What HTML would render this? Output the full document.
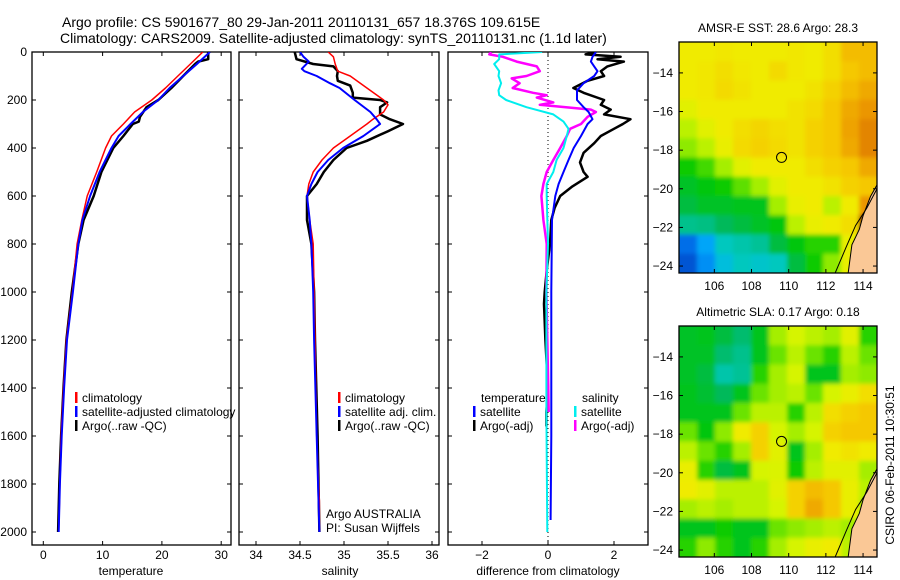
<!DOCTYPE html>
<html><head><meta charset="utf-8"><style>
html,body{margin:0;padding:0;background:#fff;}
svg{display:block;font-family:"Liberation Sans",sans-serif;}
text{fill:#000;}
</style></head><body>
<svg id="chart" width="900" height="580" viewBox="0 0 900 580" xmlns="http://www.w3.org/2000/svg">
<defs>
<clipPath id="c1"><rect x="32" y="52" width="199" height="493"/></clipPath>
<clipPath id="c2"><rect x="239" y="52" width="200" height="493"/></clipPath>
<clipPath id="c3"><rect x="448" y="52" width="200" height="493"/></clipPath>
<clipPath id="cm1"><rect x="679" y="42" width="198" height="231"/></clipPath>
<clipPath id="cm2"><rect x="679" y="326" width="198" height="231"/></clipPath>
<filter id="blur" x="-5%" y="-5%" width="110%" height="110%"><feGaussianBlur stdDeviation="2.2"/></filter>
</defs>
<text x="62" y="27" font-size="14">Argo profile: CS 5901677_80 29-Jan-2011 20110131_657 18.376S 109.615E</text>
<text x="60" y="43" font-size="14">Climatology: CARS2009. Satellite-adjusted climatology: synTS_20110131.nc (1.1d later)</text>
<g id="root"></g>
</svg>
<script>
// ---------- data ----------
const depthTicks = [0,200,400,600,800,1000,1200,1400,1600,1800,2000];
const tempTicks = [0,10,20,30];
const salTicks = [34,34.5,35,35.5,36];
const diffTicks = [-2,0,2];

const tClimDepth = [0,50,100,150,200,250,300,350,400,500,600,700,800,1000,1200,1400,1600,1800,2000];
const tClimVal   = [26.9,24.8,22.7,20.6,18.3,15.4,13.5,11.5,10.5,9.0,7.4,6.5,5.7,4.9,3.9,3.4,3.0,2.8,2.6];
const tSatDepth  = [0,50,100,150,200,250,300,350,400,500,600,700,800,1000,1200,1400,1600,1800,2000];
const tSatVal    = [28.1,25.9,23.6,21.3,19.4,16.8,14.7,12.7,11.5,9.5,7.9,6.6,5.9,5.0,4.0,3.5,3.1,2.8,2.6];
const tArgoDepth = [0,30,40,50,100,150,200,230,270,290,300,350,400,500,600,700,800,1000,1200,1400,1600,1800,2000];
const tArgoVal   = [27.8,27.8,26.1,25.6,23.6,21.6,19.4,17.4,16.3,16.1,15.1,13.5,11.8,9.8,8.5,6.8,5.9,4.8,3.9,3.4,3.0,2.7,2.5];

const sClimDepth = [0,20,50,80,100,150,200,220,250,280,300,350,400,450,500,550,600,700,800,1000,1200,1600,1800,1870,2000];
const sClimVal   = [34.82,34.88,34.9,34.93,35.07,35.26,35.45,35.5,35.45,35.33,35.26,35.07,34.88,34.75,34.65,34.6,34.58,34.61,34.65,34.66,34.67,34.69,34.71,34.72,34.72];
const sSatDepth  = [0,20,40,70,80,100,130,150,200,250,280,300,350,400,450,500,550,600,700,800,1000,1200,1600,2000];
const sSatVal    = [34.5,34.54,34.6,34.52,34.55,34.69,34.84,34.95,35.12,35.3,35.37,35.41,35.22,34.99,34.82,34.7,34.63,34.58,34.61,34.63,34.65,34.66,34.69,34.72];
const sArgoDepth = [0,30,50,60,80,100,120,140,170,190,200,210,230,260,280,300,330,370,400,450,500,550,600,700,800,1000,1200,1600,2000];
const sArgoVal   = [34.44,34.46,34.65,34.88,34.93,34.92,34.93,35.07,35.1,35.1,35.41,35.49,35.41,35.41,35.52,35.67,35.5,35.26,35.03,34.88,34.77,34.69,34.58,34.58,34.63,34.66,34.67,34.7,34.72];

const dTSatDepth = [0,20,40,60,80,100,130,160,200,230,250,280,300,350,400,450,500,550,600,700,1000,1600,1950];
const dTSatVal   = [1.45,1.35,1.3,1.4,1.5,1.4,1.08,0.88,0.88,1.08,1.23,1.35,1.2,1.0,0.78,0.62,0.47,0.32,0.22,0.12,0.1,0.1,0.08];
const dTArgoDepth = [0,10,20,30,40,60,80,100,120,150,170,200,220,240,260,280,300,320,350,380,420,460,500,520,560,600,650,700,800,900,1000,1050,1200,1400,1500,1560];
const dTArgoVal   = [1.45,1.14,2.2,1.5,2.3,1.8,1.6,1.7,1.2,0.77,1.08,1.7,1.6,1.9,1.7,2.5,2.27,2.0,1.6,1.4,1.08,0.97,1.08,1.2,0.74,0.37,0.2,0.1,0.06,-0.03,-0.1,-0.12,-0.08,0,-0.05,-0.05];
const dSSatDepth = [0,10,30,50,80,100,130,160,180,200,230,260,290,320,350,400,450,500,550,600,800,1000,1500,2000];
const dSSatVal   = [-0.18,-1.48,-1.48,-1.63,-1.48,-1.5,-1.42,-1.5,-1.48,-1.27,-0.65,0.16,0.47,0.62,0.57,0.47,0.26,0.16,-0.04,-0.04,0,-0.05,-0.05,-0.02];
const dSArgoDepth = [0,10,20,40,60,80,100,110,130,150,170,180,190,210,220,240,250,270,300,320,350,400,450,500,550,600,700,800,1000,1500];
const dSArgoVal   = [-1.72,-1.78,-1.37,-0.95,-0.34,-0.25,-0.65,-1.1,-0.86,-1.07,-0.45,-0.04,-0.34,0.16,-0.25,1.3,1.45,1.2,1.0,0.67,0.57,0.37,0.16,-0.04,-0.14,-0.2,-0.14,-0.04,-0.05,0.02];

const lonTicks = [106,108,110,112,114];
const latTicks = [-14,-16,-18,-20,-22,-24];
const argoLon = 109.615, argoLat = -18.376;
const sstGrid = [
[0.72,0.72,0.73,0.72,0.72,0.72,0.73,0.72,0.75,0.82,0.82],
[0.72,0.73,0.75,0.73,0.72,0.76,0.73,0.72,0.75,0.80,0.82],
[0.72,0.73,0.76,0.74,0.72,0.72,0.72,0.74,0.78,0.82,0.85],
[0.68,0.72,0.72,0.72,0.72,0.72,0.74,0.76,0.80,0.85,0.88],
[0.62,0.68,0.72,0.75,0.77,0.75,0.74,0.78,0.80,0.86,0.90],
[0.58,0.62,0.70,0.76,0.78,0.76,0.74,0.78,0.80,0.85,0.90],
[0.48,0.52,0.60,0.68,0.72,0.72,0.72,0.75,0.78,0.80,0.85],
[0.44,0.46,0.48,0.54,0.60,0.68,0.72,0.72,0.74,0.78,0.80],
[0.42,0.44,0.44,0.45,0.45,0.60,0.70,0.72,0.62,0.72,0.88],
[0.35,0.36,0.40,0.42,0.44,0.46,0.62,0.70,0.72,0.75,1.00],
[0.10,0.18,0.30,0.32,0.34,0.42,0.46,0.50,0.50,0.70,1.00],
[0.05,0.15,0.25,0.30,0.28,0.30,0.42,0.48,0.58,0.70,0.70]];
const slaGrid = [
[0.44,0.45,0.42,0.38,0.45,0.60,0.65,0.62,0.60,0.68,0.50],
[0.44,0.44,0.38,0.35,0.45,0.55,0.62,0.55,0.50,0.62,0.55],
[0.44,0.42,0.32,0.34,0.50,0.60,0.65,0.45,0.45,0.60,0.58],
[0.45,0.43,0.40,0.45,0.55,0.60,0.62,0.55,0.65,0.70,0.75],
[0.45,0.45,0.45,0.55,0.62,0.62,0.50,0.62,0.75,0.78,0.80],
[0.55,0.46,0.58,0.72,0.78,0.65,0.60,0.65,0.78,0.80,0.80],
[0.62,0.55,0.50,0.60,0.78,0.68,0.45,0.60,0.72,0.74,0.72],
[0.70,0.50,0.42,0.45,0.65,0.66,0.48,0.62,0.68,0.68,0.60],
[0.72,0.68,0.62,0.62,0.62,0.68,0.78,0.82,0.80,0.70,0.62],
[0.60,0.62,0.60,0.62,0.62,0.65,0.78,0.85,0.80,0.70,0.60],
[0.45,0.45,0.48,0.45,0.45,0.55,0.58,0.60,0.62,0.60,0.60],
[0.50,0.58,0.50,0.45,0.50,0.60,0.65,0.70,0.72,0.62,0.60]];

// ---------- helpers ----------
const NS = "http://www.w3.org/2000/svg";
const root = document.getElementById('root');
function mk(tag, attrs, parent){ const e=document.createElementNS(NS,tag); for(const k in attrs) e.setAttribute(k,attrs[k]); (parent||root).appendChild(e); return e; }
const yTop=52, yBot=545;
function yDepth(d){ return 52 + d*0.24; }
function xTemp(v){ return 43.3 + v*5.93; }
function xSal(v){ return 256 + (v-34)*88; }
function xDiff(v){ return 548 + v*33; }

function panel(name, x0, x1, xticks, xfn, xlabelText, xlabelX){
  const g = mk('g',{});
  
  
  const r = mk('rect',{x:x0,y:yTop,width:x1-x0,height:yBot-yTop,fill:'none',stroke:'#000','stroke-width':1.3},g);
  
  
  depthTicks.forEach(d=>{
    const y=yDepth(d);
    mk('line',{x1:x0,x2:x0+4,y1:y,y2:y,stroke:'#000'},g);
    mk('line',{x1:x1-4,x2:x1,y1:y,y2:y,stroke:'#000'},g);
  });
  xticks.forEach(v=>{
    const x=xfn(v);
    mk('line',{x1:x,x2:x,y1:yTop,y2:yTop+4,stroke:'#000'},g);
    mk('line',{x1:x,x2:x,y1:yBot-4,y2:yBot,stroke:'#000'},g);
    const t = mk('text',{x:x,y:559,'font-size':12,'text-anchor':'middle'},g);
    t.textContent = (v<0?'\u2212':'')+Math.abs(v);
    
    
  });
  const xl = mk('text',{x:xlabelX,y:575,'font-size':12,'text-anchor':'middle'},g);
  xl.textContent = xlabelText;
  
  
  return g;
}
function line(depths, vals, xfn, color, w, clip, name){
  const pts = depths.map((d,i)=>xfn(vals[i]).toFixed(1)+','+yDepth(d).toFixed(1)).join(' ');
  const p = mk('polyline',{points:pts,fill:'none',stroke:color,'stroke-width':w,'stroke-linejoin':'round','clip-path':'url(#'+clip+')'});
  
  
}
function legend(x, y, color, label){
  const g = mk('g',{});
  
  
  mk('rect',{x:x,y:y-10,width:2.5,height:11,fill:color},g);
  const t = mk('text',{x:x+7,y:y,'font-size':12},g);
  t.textContent = label;
}

depthTicks.forEach(d=>{
  const t = mk('text',{x:27,y:yDepth(d)+4,'font-size':12,'text-anchor':'end'});
  t.textContent = d;
  
  
});

panel('temperature-panel', 32, 231, tempTicks, xTemp, 'temperature', 131);
panel('salinity-panel', 239, 439, salTicks, xSal, 'salinity', 340);
panel('difference-panel', 448, 648, diffTicks, xDiff, 'difference from climatology', 548);

const zl = mk('line',{x1:xDiff(0),x2:xDiff(0),y1:yTop,y2:yBot,stroke:'#000','stroke-dasharray':'1,3'});



line(tArgoDepth,tArgoVal,xTemp,'#000',2.5,'c1','temperature-argo-line');
line(tClimDepth,tClimVal,xTemp,'#f00',1.5,'c1','temperature-climatology-line');
line(tSatDepth,tSatVal,xTemp,'#00f',2,'c1','temperature-satellite-line');

line(sArgoDepth,sArgoVal,xSal,'#000',2.5,'c2','salinity-argo-line');
line(sClimDepth,sClimVal,xSal,'#f00',1.5,'c2','salinity-climatology-line');
line(sSatDepth,sSatVal,xSal,'#00f',2,'c2','salinity-satellite-line');

line(dTArgoDepth,dTArgoVal,xDiff,'#000',2.5,'c3','temp-argo-diff-line');
line(dSArgoDepth,dSArgoVal,xDiff,'#f0f',2.5,'c3','sal-argo-diff-line');
line(dSSatDepth,dSSatVal,xDiff,'#0ee',2,'c3','sal-satellite-diff-line');
line(dTSatDepth,dTSatVal,xDiff,'#00f',2,'c3','temp-satellite-diff-line');

legend(75,402,'#f00','climatology');
legend(75,416,'#00f','satellite-adjusted climatology');
legend(75,430,'#000','Argo(..raw -QC)');
legend(338,402,'#f00','climatology');
legend(338,416,'#00f','satellite adj. clim.');
legend(338,430,'#000','Argo(..raw -QC)');
const tt = mk('text',{x:481,y:402,'font-size':12}); tt.textContent='temperature';


const st = mk('text',{x:582,y:402,'font-size':12}); st.textContent='salinity';


legend(473,416,'#00f','satellite');
legend(473,430,'#000','Argo(-adj)');
legend(574,416,'#0ee','satellite');
legend(574,430,'#f0f','Argo(-adj)');
const a1 = mk('text',{x:326,y:518,'font-size':12}); a1.textContent='Argo AUSTRALIA';


const a2 = mk('text',{x:326,y:532,'font-size':12}); a2.textContent='PI: Susan Wijffels';



// ---------- maps ----------
const stops = [[0,[0,60,190]],[0.12,[0,120,240]],[0.2,[0,180,250]],[0.3,[0,200,190]],[0.4,[0,185,90]],[0.47,[0,200,0]],[0.56,[120,230,0]],[0.64,[210,245,0]],[0.72,[240,235,0]],[0.8,[245,200,0]],[0.88,[235,150,0]],[0.94,[210,100,0]],[1,[150,0,0]]];
function cmap(v){
  for(let i=1;i<stops.length;i++){ if(v<=stops[i][0]){ const a=stops[i-1],b=stops[i]; const f=(v-a[0])/(b[0]-a[0]); const c=a[1].map((q,k)=>Math.round(q+(b[1][k]-q)*f)); return 'rgb('+c.join(',')+')'; } }
  return 'rgb(150,0,0)';
}
function drawMap(name, grid, y0, clip, titleText){
  const x0=679, w=198, h=231;
  const lon0=104.1, lon1=114.75, lat0=-12.4, lat1=-24.36;
  const lx = v=> x0 + (v-lon0)/(lon1-lon0)*w;
  const ly = v=> y0 + (v-lat0)/(lat1-lat0)*h;
  const g = mk('g',{});
  
  
  const hg = mk('g',{'clip-path':'url(#'+clip+')'},g);
  const inner = mk('g',{filter:'url(#blur)'},hg);
  const rows=grid.length, cols=grid[0].length, cw=w/cols, ch=h/rows;
  mk('rect',{x:x0-10,y:y0-10,width:w+20,height:h+20,fill:cmap(grid[0][0])},inner);
  grid.forEach((row,r)=>row.forEach((v,c)=>{
    const cell = mk('rect',{x:x0+c*cw-(c==0?10:0),y:y0+r*ch-(r==0?10:0),width:cw+0.5+(c==0||c==cols-1?10:0),height:ch+0.5+(r==0||r==rows-1?10:0),fill:cmap(v)},inner);
    
    
  }));
  const coast = [[114.75,-19.8],[114.4,-20.4],[114.0,-21.4],[113.8,-22.1],[113.4,-22.9],[113.2,-24.36]];
  const reef = [[114.75,-20.0],[114.2,-21.0],[113.6,-21.9],[113.1,-23.0],[112.5,-24.36]];
  const land = mk('polygon',{points:coast.map(p=>lx(p[0])+','+ly(p[1])).join(' ')+' '+lx(lon1)+','+ly(lat1),fill:'#fac896',stroke:'#000','stroke-width':1},hg);
  
  
  mk('polyline',{points:reef.map(p=>lx(p[0])+','+ly(p[1])).join(' '),fill:'none',stroke:'#000','stroke-width':1},hg);
  mk('rect',{x:x0,y:y0,width:w,height:h,fill:'none',stroke:'#000','stroke-width':1.3},g);
  lonTicks.forEach(v=>{
    const x=lx(v);
    mk('line',{x1:x,x2:x,y1:y0,y2:y0+4,stroke:'#000'},g);
    mk('line',{x1:x,x2:x,y1:y0+h-4,y2:y0+h,stroke:'#000'},g);
    const t=mk('text',{x:x,y:y0+h+17,'font-size':12,'text-anchor':'middle'},g); t.textContent=v;
    
    
  });
  latTicks.forEach(v=>{
    const y=ly(v);
    mk('line',{x1:x0,x2:x0+4,y1:y,y2:y,stroke:'#000'},g);
    mk('line',{x1:x0+w-4,x2:x0+w,y1:y,y2:y,stroke:'#000'},g);
    const t=mk('text',{x:673,y:y+4,'font-size':12,'text-anchor':'end'},g); t.textContent='\u2212'+Math.abs(v);
    
    
  });
  const c = mk('circle',{cx:lx(argoLon),cy:ly(argoLat),r:5,fill:'none',stroke:'#000','stroke-width':1},g);
  
  
  const t = mk('text',{x:778,y:y0-10,'font-size':12,'text-anchor':'middle'},g); t.textContent=titleText;
  
  
}
drawMap('sst-map', sstGrid, 42, 'cm1', 'AMSR-E SST: 28.6 Argo: 28.3');
drawMap('sla-map', slaGrid, 326, 'cm2', 'Altimetric SLA: 0.17 Argo: 0.18');
const cs = mk('text',{x:0,y:0,'font-size':12,'text-anchor':'middle',transform:'translate(894,465) rotate(-90)'});
cs.textContent='CSIRO 06-Feb-2011 10:30:51';


</script>
</body></html>
